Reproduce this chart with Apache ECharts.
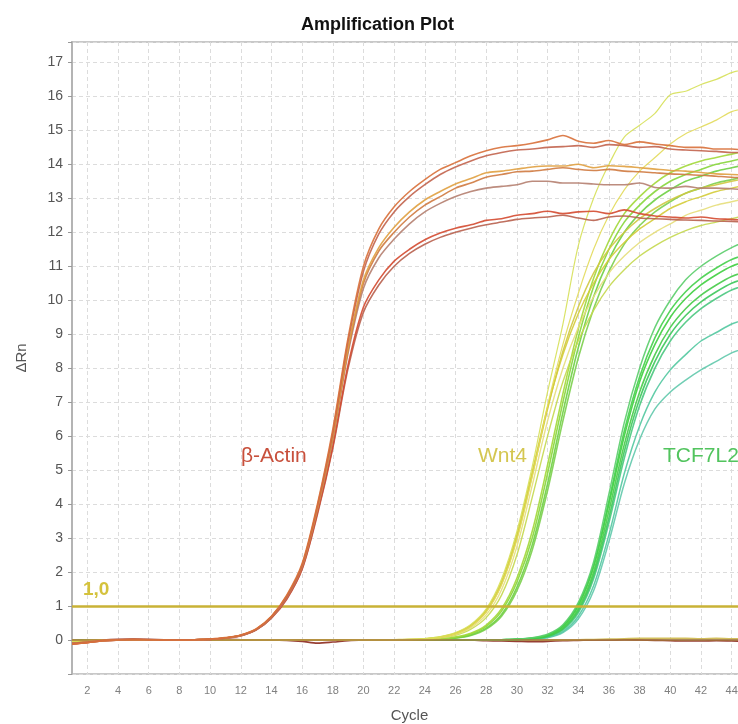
<!DOCTYPE html>
<html>
<head>
<meta charset="utf-8">
<title>Amplification Plot</title>
<script src="https://cdn.jsdelivr.net/npm/echarts@6/dist/echarts.min.js"></script>
<style>
    html, body { margin: 0; padding: 0; background: #fff; }
    #ampChart { width: 738px; height: 724px; }
</style>
</head>
<body>
<div id="ampChart"></div>
<script>
// cycle numbers (x axis)
const cycles = [1, 2, 3, 4, 5, 6, 7, 8, 9, 10, 11, 12, 13, 14, 15,
    16, 17, 18, 19, 20, 21, 22, 23, 24, 25, 26, 27, 28, 29, 30,
    31, 32, 33, 34, 35, 36, 37, 38, 39, 40, 41, 42, 43, 44, 45];

// threshold
const thresholdValue = 1;
const thresholdText = '1,0';

// β-Actin wells (ΔRn per cycle)
const actin1 = [-0.12, -0.08, -0.02, 0.01, 0.02, 0.01, 0, 0, 0.01, 0.03, 0.07, 0.15, 0.33, 0.7, 1.32,
    2.25, 4.0, 6.2, 8.9, 11.0, 12.1, 12.75, 13.2, 13.55, 13.85, 14.05, 14.25, 14.4, 14.5, 14.55,
    14.62, 14.72, 14.85, 14.68, 14.62, 14.7, 14.58, 14.66, 14.6, 14.55, 14.5, 14.5, 14.45, 14.45, 14.4];
const actin2 = [-0.1, -0.06, -0.01, 0.01, 0.02, 0.01, 0, 0.01, 0.01, 0.03, 0.06, 0.14, 0.31, 0.68, 1.28,
    2.2, 3.95, 6.1, 8.8, 10.85, 11.95, 12.6, 13.05, 13.4, 13.7, 13.92, 14.1, 14.25, 14.35, 14.42,
    14.45, 14.5, 14.52, 14.55, 14.5, 14.58, 14.55, 14.5, 14.52, 14.45, 14.42, 14.4, 14.38, 14.35, 14.35];
const actin3 = [-0.1, -0.05, -0.01, 0.01, 0.01, 0.01, 0, 0.01, 0.01, 0.03, 0.06, 0.14, 0.32, 0.69, 1.3,
    2.2, 3.9, 6.0, 8.6, 10.6, 11.55, 12.15, 12.6, 12.95, 13.2, 13.42, 13.58, 13.75, 13.8, 13.86,
    13.92, 13.95, 13.95, 14.0, 13.9, 13.96, 13.94, 13.9, 13.86, 13.82, 13.8, 13.76, 13.72, 13.7, 13.68];
const actin4 = [-0.11, -0.07, -0.02, 0, 0.01, 0.01, 0, 0, 0.01, 0.02, 0.06, 0.14, 0.31, 0.68, 1.28,
    2.18, 3.88, 5.95, 8.55, 10.5, 11.45, 12.0, 12.45, 12.8, 13.05, 13.3, 13.45, 13.62, 13.7, 13.78,
    13.8, 13.85, 13.9, 13.85, 13.82, 13.85, 13.8, 13.78, 13.75, 13.72, 13.7, 13.68, 13.65, 13.62, 13.6];
const actin5 = [-0.1, -0.06, -0.02, 0, 0.01, 0.01, 0, 0, 0.01, 0.02, 0.06, 0.13, 0.3, 0.66, 1.25,
    2.15, 3.85, 5.9, 8.45, 10.35, 11.25, 11.8, 12.25, 12.6, 12.85, 13.05, 13.2, 13.3, 13.35, 13.4,
    13.5, 13.5, 13.45, 13.45, 13.42, 13.4, 13.4, 13.45, 13.32, 13.3, 13.35, 13.3, 13.3, 13.28, 13.25];
const actin6 = [-0.12, -0.08, -0.02, 0, 0.01, 0.01, 0, 0, 0.01, 0.02, 0.06, 0.13, 0.3, 0.65, 1.22,
    2.1, 3.75, 5.7, 8.1, 9.8, 10.6, 11.15, 11.5, 11.78, 11.98, 12.12, 12.22, 12.35, 12.4, 12.5,
    12.55, 12.62, 12.55, 12.6, 12.62, 12.55, 12.66, 12.55, 12.48, 12.45, 12.42, 12.45, 12.4, 12.38, 12.35];
const actin7 = [-0.11, -0.07, -0.02, 0, 0.01, 0.01, 0, 0, 0.01, 0.02, 0.05, 0.12, 0.29, 0.64, 1.2,
    2.08, 3.7, 5.65, 8.0, 9.65, 10.45, 11.0, 11.38, 11.65, 11.85, 12.0, 12.12, 12.22, 12.3, 12.38,
    12.42, 12.45, 12.5, 12.42, 12.35, 12.45, 12.48, 12.42, 12.4, 12.38, 12.36, 12.35, 12.33, 12.32, 12.3];

// Wnt4 wells
const wnt1 = [-0.04, -0.02, 0, 0.01, 0.01, 0, 0, 0.01, 0, 0, 0, 0.01, 0, 0, 0,
    0, 0, 0.01, 0, 0, 0.01, 0.01, 0.02, 0.04, 0.1, 0.22, 0.46, 0.92, 1.8, 3.2,
    5.1, 7.3, 9.3, 11.6, 13.0, 14.0, 14.8, 15.15, 15.5, 16.05, 16.15, 16.35, 16.5, 16.7, 16.8];
const wnt2 = [-0.03, -0.01, 0, 0.01, 0, 0, 0.01, 0, 0, 0.01, 0, 0, 0, 0.01, 0,
    0, 0.01, 0, 0, 0.01, 0, 0.01, 0.02, 0.03, 0.08, 0.18, 0.4, 0.82, 1.62, 2.95,
    4.8, 6.9, 8.7, 10.2, 11.5, 12.5, 13.25, 13.8, 14.2, 14.6, 14.9, 15.1, 15.3, 15.55, 15.65];
const wnt3 = [-0.04, -0.02, 0, 0, 0.01, 0, 0, 0, 0.01, 0, 0, 0, 0.01, 0, 0,
    0, 0, 0, 0.01, 0, 0, 0.01, 0.02, 0.04, 0.09, 0.2, 0.43, 0.88, 1.72, 3.1,
    4.95, 6.85, 8.4, 9.6, 10.5, 11.2, 11.7, 12.1, 12.4, 12.7, 12.9, 13.05, 13.2, 13.3, 13.4];
const wnt4 = [-0.03, -0.01, 0, 0.01, 0, 0, 0, 0.01, 0, 0, 0.01, 0, 0, 0, 0.01,
    0, 0, 0, 0, 0.01, 0, 0, 0.01, 0.03, 0.07, 0.16, 0.36, 0.74, 1.48, 2.75,
    4.55, 6.45, 8.0, 9.2, 10.1, 10.8, 11.3, 11.7, 12.0, 12.25, 12.5, 12.65, 12.8, 12.9, 13.0];
const wnt5 = [-0.02, -0.01, 0, 0, 0.01, 0, 0, 0, 0, 0.01, 0, 0, 0.01, 0, 0,
    0, 0.01, 0, 0, 0, 0.01, 0, 0.01, 0.02, 0.06, 0.14, 0.32, 0.66, 1.32, 2.5,
    4.2, 6.0, 7.6, 8.8, 9.7, 10.4, 10.9, 11.3, 11.6, 11.85, 12.05, 12.2, 12.3, 12.4, 12.5];
const wnt6 = [-0.03, -0.02, 0, 0, 0, 0.01, 0, 0, 0, 0, 0.01, 0, 0, 0, 0,
    0.01, 0, 0, 0, 0, 0, 0.01, 0.01, 0.03, 0.08, 0.19, 0.41, 0.84, 1.65, 3.0,
    4.85, 6.8, 8.5, 9.8, 10.8, 11.5, 12.0, 12.4, 12.7, 12.95, 13.15, 13.3, 13.4, 13.5, 13.6];
const wnt7 = [-0.02, -0.01, 0, 0.01, 0, 0, 0, 0, 0.01, 0, 0, 0, 0, 0.01, 0,
    0, 0, 0, 0.01, 0, 0, 0, 0, 0.01, 0.03, 0.08, 0.18, 0.4, 0.85, 1.7,
    3.0, 4.9, 7.0, 8.9, 10.4, 11.5, 12.3, 12.8, 13.2, 13.5, 13.7, 13.85, 14.0, 14.1, 14.2];
const wnt8 = [-0.03, -0.01, 0, 0, 0.01, 0, 0, 0, 0, 0, 0.01, 0, 0, 0, 0,
    0, 0.01, 0, 0, 0, 0, 0.01, 0, 0, 0.02, 0.06, 0.15, 0.35, 0.75, 1.55,
    2.8, 4.6, 6.7, 8.6, 10.1, 11.2, 12.0, 12.55, 12.95, 13.25, 13.5, 13.65, 13.8, 13.9, 14.0];
const wnt9 = [-0.02, -0.01, 0, 0, 0, 0.01, 0, 0, 0, 0.01, 0, 0, 0, 0, 0.01,
    0, 0, 0.01, 0, 0, 0, 0, 0.01, 0.01, 0.03, 0.09, 0.2, 0.44, 0.92, 1.82,
    3.2, 5.15, 7.25, 9.15, 10.65, 11.75, 12.55, 13.05, 13.45, 13.75, 13.95, 14.1, 14.2, 14.3, 14.4];
const wnt10 = [-0.03, -0.02, 0, 0.01, 0, 0, 0, 0.01, 0, 0, 0, 0, 0.01, 0, 0,
    0, 0, 0, 0, 0.01, 0, 0, 0, 0.01, 0.02, 0.05, 0.13, 0.32, 0.7, 1.45,
    2.65, 4.4, 6.45, 8.3, 9.75, 10.85, 11.65, 12.2, 12.6, 12.9, 13.15, 13.3, 13.45, 13.55, 13.65];

// TCF7L2 wells
const tcf1 = [-0.03, -0.01, 0, 0, 0.01, 0, 0, 0, 0, 0.01, 0, 0, 0, 0, 0.01,
    0, 0, 0, 0, 0, 0.01, 0, 0, 0, 0, 0.01, 0, 0, 0.01, 0.03,
    0.07, 0.17, 0.45, 1.1, 2.3, 4.3, 6.4, 8.0, 9.2, 10.0, 10.6, 11.0, 11.3, 11.55, 11.75];
const tcf2 = [-0.02, -0.01, 0, 0.01, 0, 0, 0, 0, 0.01, 0, 0, 0, 0, 0, 0,
    0.01, 0, 0, 0, 0, 0, 0, 0.01, 0, 0, 0, 0, 0.01, 0, 0.02,
    0.05, 0.14, 0.4, 1.0, 2.15, 4.0, 6.0, 7.6, 8.7, 9.5, 10.05, 10.45, 10.75, 11.0, 11.15];
const tcf3 = [-0.03, -0.01, 0, 0, 0, 0.01, 0, 0, 0, 0, 0.01, 0, 0, 0, 0,
    0, 0.01, 0, 0, 0, 0, 0, 0, 0.01, 0, 0, 0, 0, 0.01, 0.02,
    0.05, 0.12, 0.36, 0.92, 2.0, 3.8, 5.75, 7.3, 8.4, 9.2, 9.75, 10.15, 10.45, 10.7, 10.85];
const tcf4 = [-0.02, -0.01, 0, 0, 0.01, 0, 0, 0, 0, 0, 0, 0.01, 0, 0, 0,
    0, 0, 0.01, 0, 0, 0, 0, 0, 0, 0.01, 0, 0, 0, 0, 0.02,
    0.04, 0.11, 0.33, 0.86, 1.9, 3.6, 5.55, 7.1, 8.2, 9.0, 9.55, 9.95, 10.25, 10.5, 10.65];
const tcf5 = [-0.03, -0.02, 0, 0, 0, 0, 0.01, 0, 0, 0, 0, 0, 0.01, 0, 0,
    0, 0, 0, 0.01, 0, 0, 0, 0, 0, 0, 0.01, 0, 0, 0, 0.01,
    0.04, 0.1, 0.3, 0.8, 1.8, 3.45, 5.35, 6.9, 8.0, 8.8, 9.35, 9.75, 10.05, 10.3, 10.45];
const tcf6 = [-0.02, -0.01, 0, 0.01, 0, 0, 0, 0, 0, 0.01, 0, 0, 0, 0, 0,
    0.01, 0, 0, 0, 0, 0.01, 0, 0, 0, 0, 0, 0.01, 0, 0, 0.01,
    0.03, 0.08, 0.25, 0.7, 1.6, 3.1, 4.9, 6.3, 7.3, 7.95, 8.4, 8.8, 9.05, 9.3, 9.45];
const tcf7 = [-0.03, -0.01, 0, 0, 0, 0, 0, 0.01, 0, 0, 0, 0, 0, 0.01, 0,
    0, 0, 0, 0, 0.01, 0, 0, 0, 0, 0, 0.01, 0, 0, 0, 0.01,
    0.03, 0.07, 0.22, 0.62, 1.45, 2.9, 4.6, 5.9, 6.8, 7.3, 7.65, 7.95, 8.2, 8.45, 8.6];
const tcf8 = [-0.02, 0, 0, 0, 0.01, 0, 0, 0, 0, 0, 0, 0, 0.01, 0, 0,
    0, 0, 0, 0.01, 0, 0, 0, 0, 0.01, 0, 0, 0, 0, 0.01, 0.02,
    0.06, 0.15, 0.42, 1.05, 2.2, 4.1, 6.15, 7.75, 8.9, 9.7, 10.25, 10.65, 10.95, 11.2, 11.35];

// no-template wells, flat near zero
const ntc1 = [-0.06, -0.03, 0, 0.02, 0.03, 0.02, 0.01, 0, 0, 0.01, 0.02, 0.01, 0, 0, -0.01,
    -0.04, -0.09, -0.06, -0.02, 0, 0.01, 0.01, 0, 0, 0, 0.01, 0, -0.02, -0.03, -0.04,
    -0.05, -0.04, -0.02, -0.01, 0, 0, 0.01, 0, -0.01, -0.02, -0.03, -0.03, -0.02, -0.03, -0.04];
const ntc2 = [0, 0, 0.01, 0.01, 0, 0, 0, 0, 0, 0, 0, 0, 0, 0, 0,
    0, 0, 0, 0, 0, 0, 0, 0, 0, 0, 0, 0, 0, 0, 0,
    0, 0, 0, 0.01, 0.02, 0.03, 0.04, 0.05, 0.05, 0.05, 0.05, 0.04, 0.05, 0.04, 0.04];

const FONT = 'Liberation Sans, Arial, sans-serif';

window.addEventListener('DOMContentLoaded', function() {
    initAmplificationChart();
});

// one line series per well
function wellSeries(values, color, width, z) {
    return {
        type: 'line',
        data: cycles.map((c, i) => [c, values[i]]),
        showSymbol: false,
        smooth: 0.3,
        silent: true,
        z: z,
        lineStyle: { color: color, width: width, opacity: 0.9 }
    };
}

function initAmplificationChart() {
    const chartDom = document.getElementById('ampChart');
    const myChart = echarts.init(chartDom, null, { renderer: 'canvas' });

    const series = [];

    // flat wells + zero line
    const base = wellSeries(ntc1, '#8c2a1e', 1.6, 2);
    base.markLine = {
        silent: true,
        symbol: 'none',
        label: { show: false },
        lineStyle: { color: '#a8783c', width: 1.5, type: 'solid' },
        data: [{ yAxis: 0 }]
    };
    series.push(base);
    series.push(wellSeries(ntc2, '#cdb84a', 1.4, 2));

    // TCF7L2
    series.push(wellSeries(tcf7, '#62c9ac', 1.5, 3));
    series.push(wellSeries(tcf6, '#52c8a0', 1.5, 3));
    series.push(wellSeries(tcf5, '#4ac880', 1.6, 3));
    series.push(wellSeries(tcf4, '#3cc85a', 1.6, 3));
    series.push(wellSeries(tcf3, '#46cb48', 1.6, 3));
    series.push(wellSeries(tcf2, '#3fcf3f', 1.6, 3));
    series.push(wellSeries(tcf8, '#44d04a', 1.6, 3));
    series.push(wellSeries(tcf1, '#5acd6a', 1.5, 3));

    // Wnt4
    series.push(wellSeries(wnt10, '#7ccf4e', 1.6, 4));
    series.push(wellSeries(wnt8, '#6ecf42', 1.6, 4));
    series.push(wellSeries(wnt7, '#86d63a', 1.6, 4));
    series.push(wellSeries(wnt9, '#a2d83a', 1.6, 4));
    series.push(wellSeries(wnt5, '#c4d84e', 1.4, 4));
    series.push(wellSeries(wnt4, '#e6de7a', 1.4, 4));
    series.push(wellSeries(wnt6, '#cfc840', 1.5, 4));
    series.push(wellSeries(wnt3, '#d4cc38', 1.5, 4));
    series.push(wellSeries(wnt2, '#e2da5a', 1.2, 4));
    series.push(wellSeries(wnt1, '#d6e058', 1.2, 4));

    // β-Actin
    series.push(wellSeries(actin7, '#b8604e', 1.6, 5));
    series.push(wellSeries(actin6, '#d44a30', 1.6, 5));
    series.push(wellSeries(actin5, '#b58070', 1.6, 5));
    series.push(wellSeries(actin4, '#cf7a40', 1.6, 5));
    series.push(wellSeries(actin3, '#e0a040', 1.6, 5));
    series.push(wellSeries(actin2, '#c2644e', 1.6, 5));
    series.push(wellSeries(actin1, '#d8703a', 1.6, 5));

    // threshold line
    series.push({
        type: 'line',
        data: [],
        silent: true,
        z: 6,
        markLine: {
            silent: true,
            symbol: 'none',
            label: { show: false },
            lineStyle: { color: '#c9b236', width: 2.5, type: 'solid' },
            data: [{ yAxis: thresholdValue }]
        }
    });

    const option = {
        animation: false,
        backgroundColor: '#fff',
        textStyle: { fontFamily: FONT },
        title: {
            text: 'Amplification Plot',
            left: 296,
            top: 11,
            textStyle: { fontSize: 18, fontWeight: 'bold', color: '#111', fontFamily: FONT }
        },
        grid: {
            left: 72,
            right: -9,
            top: 42,
            bottom: 50,
            outerBoundsMode: 'none',
            containLabel: false,
            show: true,
            borderColor: '#c8c8c8',
            borderWidth: 2
        },
        xAxis: {
            type: 'value',
            min: 1,
            max: 45,
            interval: 1,
            name: 'Cycle',
            nameLocation: 'middle',
            nameGap: 34,
            nameTextStyle: { fontSize: 15, color: '#555' },
            axisLine: { show: true, lineStyle: { color: '#b4b4b4', width: 2 } },
            axisTick: { show: false },
            axisLabel: {
                fontSize: 11,
                color: '#808080',
                margin: 11,
                formatter: function(v) { return v % 2 === 0 ? String(v) : ''; }
            },
            splitLine: {
                show: true,
                lineStyle: { color: ['rgba(0,0,0,0)', '#dcdcdc'], type: [4, 3], width: 1 }
            }
        },
        yAxis: {
            type: 'value',
            min: -1,
            max: 17.6,
            interval: 1,
            name: 'ΔRn',
            nameLocation: 'middle',
            nameGap: 43,
            nameTextStyle: { fontSize: 15, color: '#555' },
            axisLine: { show: true, lineStyle: { color: '#b4b4b4', width: 2 } },
            axisTick: { show: true, length: 4, lineStyle: { color: '#999' } },
            axisLabel: {
                fontSize: 14,
                color: '#555',
                margin: 9,
                formatter: function(v) {
                    return (v >= 0 && Number.isInteger(v)) ? String(v) : '';
                }
            },
            splitLine: {
                show: true,
                lineStyle: { color: '#dcdcdc', type: [4, 3], width: 1 }
            }
        },
        graphic: [
            {
                type: 'text', left: 241, top: 446, z: 10,
                style: { text: 'β-Actin', fontSize: 21, fill: '#c8503c', fontFamily: FONT }
            },
            {
                type: 'text', left: 478, top: 446, z: 10,
                style: { text: 'Wnt4', fontSize: 21, fill: '#d4c650', fontFamily: FONT }
            },
            {
                type: 'text', left: 663, top: 446, z: 10,
                style: { text: 'TCF7L2', fontSize: 21, fill: '#52c45e', fontFamily: FONT }
            },
            {
                type: 'text', left: 83, top: 580, z: 10,
                style: { text: thresholdText, fontSize: 19, fontWeight: 'bold', fill: '#d4c23c', fontFamily: FONT }
            }
        ],
        series: series
    };

    myChart.setOption(option);
    window.addEventListener('resize', () => myChart.resize());
}
</script>
</body>
</html>
